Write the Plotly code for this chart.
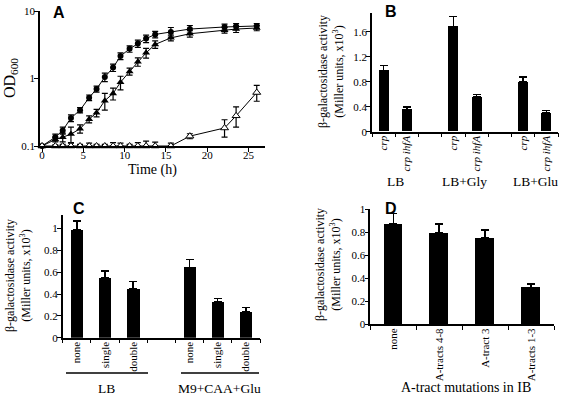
import plotly.graph_objects as go

# ---------------- data ----------------
# Panel A: growth curves
time_h = [0, 1.6, 2.5, 3.5, 4.6, 5.7, 6.6, 7.6, 8.6, 9.5, 10.6, 11.6, 12.6, 13.7, 15.6, 17.9, 22.1, 23.5, 26.0]
od_circle = [0.1, 0.135, 0.17, 0.26, 0.34, 0.52, 0.70, 1.05, 1.45, 2.15, 2.75, 3.3, 3.9, 4.5, 4.9, 5.4, 5.8, 5.9, 6.0]
od_circle_err = [0.005, 0.015, 0.02, 0.03, 0.03, 0.05, 0.07, 0.15, 0.18, 0.25, 0.3, 0.4, 0.5, 0.5, 0.8, 0.7, 0.6, 0.6, 0.5]
od_tri = [0.1, 0.125, 0.135, 0.15, 0.18, 0.25, 0.31, 0.47, 0.6, 0.88, 1.27, 1.77, 2.4, 3.2, 4.0, 4.6, 5.2, 5.4, 5.6]
od_tri_err = [0.005, 0.01, 0.02, 0.04, 0.025, 0.03, 0.04, 0.13, 0.12, 0.2, 0.15, 0.25, 0.4, 0.4, 0.4, 0.5, 0.5, 0.6, 0.5]
od_open = [0.1, 0.1, 0.1, 0.1, 0.1, 0.1, 0.1, 0.1, 0.1, 0.1, 0.1, 0.1, 0.1, 0.1, 0.1, 0.14, 0.185, 0.28, 0.62]
od_open_err_plus = [0, 0.004, 0.006, 0.012, 0.006, 0.01, 0.006, 0.006, 0.012, 0.01, 0.006, 0.012, 0.018, 0.014, 0.01, 0.012, 0.06, 0.1, 0.17]
od_open_err_minus = [0, 0, 0, 0, 0, 0, 0, 0, 0, 0, 0, 0, 0, 0, 0, 0.012, 0.05, 0.09, 0.16]

# Panel B
b_pos = [0, 1, 3, 4, 6, 7]
b_vals = [0.98, 0.36, 1.69, 0.56, 0.80, 0.30]
b_err = [0.08, 0.035, 0.16, 0.04, 0.08, 0.04]
b_ticktext = ["<i>crp</i>", "<i>crp ihfA</i>", "<i>crp</i>", "<i>crp ihfA</i>", "<i>crp</i>", "<i>crp ihfA</i>"]
b_groups = ["LB", "LB+Gly", "LB+Glu"]

# Panel C
c_pos = [0, 1, 2, 4, 5, 6]
c_vals = [0.99, 0.55, 0.45, 0.645, 0.33, 0.24]
c_err = [0.08, 0.06, 0.065, 0.07, 0.03, 0.035]
c_ticktext = ["none", "single", "double", "none", "single", "double"]
c_groups = ["LB", "M9+CAA+Glu"]

# Panel D
d_pos = [0, 1, 2, 3]
d_vals = [0.87, 0.79, 0.75, 0.32]
d_err = [0.09, 0.08, 0.07, 0.03]
d_ticktext = ["none", "A-tracts 4-8", "A-tract 3", "A-tracts 1-3"]

# ---------------- helpers ----------------
W, H = 562, 395
def px(x):
    return x / W
def py(y):
    return 1 - y / H

SERIF = "Liberation Serif"
SANS = "Liberation Sans"
BLACK = "black"

fig = go.Figure()

# Panel A traces
fig.add_trace(go.Scatter(
    x=time_h, y=od_circle, mode="lines+markers", xaxis="x", yaxis="y",
    line=dict(color=BLACK, width=1),
    marker=dict(symbol="circle", size=6, color=BLACK),
    error_y=dict(type="data", array=od_circle_err, color=BLACK, thickness=1.2, width=3),
    cliponaxis=False))
fig.add_trace(go.Scatter(
    x=time_h, y=od_tri, mode="lines+markers", xaxis="x", yaxis="y",
    line=dict(color=BLACK, width=1),
    marker=dict(symbol="triangle-up", size=7, color=BLACK),
    error_y=dict(type="data", array=od_tri_err, color=BLACK, thickness=1.2, width=3),
    cliponaxis=False))
fig.add_trace(go.Scatter(
    x=time_h, y=od_open, mode="lines+markers", xaxis="x", yaxis="y",
    line=dict(color=BLACK, width=1),
    marker=dict(symbol="triangle-up", size=7, color="white", line=dict(color=BLACK, width=1)),
    error_y=dict(type="data", symmetric=False, array=od_open_err_plus, arrayminus=od_open_err_minus,
                 color=BLACK, thickness=1.2, width=3),
    cliponaxis=False))

bar_err = lambda e: dict(type="data", symmetric=False, array=e, arrayminus=[0] * len(e),
                         color=BLACK, thickness=1.5, width=4)

fig.add_trace(go.Bar(x=b_pos, y=b_vals, width=0.43, xaxis="x2", yaxis="y2",
                     marker=dict(color=BLACK, line=dict(width=0)), error_y=bar_err(b_err)))
fig.add_trace(go.Bar(x=c_pos, y=c_vals, width=0.43, xaxis="x3", yaxis="y3",
                     marker=dict(color=BLACK, line=dict(width=0)), error_y=bar_err(c_err)))
fig.add_trace(go.Bar(x=d_pos, y=d_vals, width=0.41, xaxis="x4", yaxis="y4",
                     marker=dict(color=BLACK, line=dict(width=0)), error_y=bar_err(d_err)))

tickfont = dict(family=SERIF, size=11, color=BLACK)
rotfont = dict(family=SERIF, size=11, color=BLACK)
common_axis = dict(showline=True, linecolor=BLACK, linewidth=1.5, showgrid=False, zeroline=False,
                   automargin=False, mirror=False,
                   tickfont=tickfont, tickcolor=BLACK, ticklen=4, tickwidth=1.2, fixedrange=True)

def minor_bounds(n):
    return dict(tickmode="array", tickvals=[i - 0.5 for i in range(n + 1)],
                ticks="outside", ticklen=4, tickwidth=1.2, tickcolor=BLACK, showgrid=False)

fig.update_layout(
    template="none",
    width=W, height=H, margin=dict(l=0, r=0, t=0, b=0, autoexpand=False),
    paper_bgcolor="white", plot_bgcolor="white", showlegend=False, bargap=0,
    xaxis=dict(common_axis, domain=[px(40), px(265)], anchor="y", range=[-0.25, 27],
               tickmode="array", tickvals=[0, 5, 10, 15, 20, 25], ticks="outside",
               ticklabelstandoff=-6),
    yaxis=dict(common_axis, domain=[py(146), py(11)], anchor="x", type="log", range=[-1, 1],
               tickmode="array", tickvals=[0.1, 1, 10], ticktext=["0.1", "1", "10"], ticks="outside",
               ticklabelstandoff=-3),
    xaxis2=dict(common_axis, domain=[px(372), px(558)], anchor="y2", range=[-0.5, 7.5],
                tickmode="array", tickvals=b_pos, ticktext=b_ticktext, ticks="", tickangle=-90,
                tickfont=rotfont, minor=minor_bounds(8), ticklabelstandoff=-2),
    yaxis2=dict(common_axis, domain=[py(131.7), py(13.3)], anchor="x2", range=[0, 1.9],
                tickmode="array", tickvals=[0, 0.4, 0.8, 1.2, 1.6], ticktext=["0", "0.4", "0.8", "1.2", "1.6"],
                ticks="outside", ticklabelstandoff=-3),
    xaxis3=dict(common_axis, domain=[px(62.7), px(260)], anchor="y3", range=[-0.5, 6.5],
                tickmode="array", tickvals=c_pos, ticktext=c_ticktext, ticks="", tickangle=-90,
                tickfont=rotfont, minor=minor_bounds(7), ticklabelstandoff=-2),
    yaxis3=dict(common_axis, domain=[py(337.7), py(215)], anchor="x3", range=[0, 1.125],
                tickmode="array", tickvals=[0, 0.2, 0.4, 0.6, 0.8, 1], ticktext=["0", "0.2", "0.4", "0.6", "0.8", "1"],
                ticks="outside", ticklabelstandoff=-3),
    xaxis4=dict(common_axis, domain=[px(370.3), px(554)], anchor="y4", range=[-0.5, 3.5],
                tickmode="array", tickvals=d_pos, ticktext=d_ticktext, ticks="", tickangle=-90,
                tickfont=dict(family=SERIF, size=11, color=BLACK), minor=minor_bounds(4),
                ticklabelstandoff=-2),
    yaxis4=dict(common_axis, domain=[py(324.3), py(209)], anchor="x4", range=[0, 1],
                tickmode="array", tickvals=[0, 0.2, 0.4, 0.6, 0.8, 1], ticktext=["0", "0.2", "0.4", "0.6", "0.8", "1"],
                ticks="outside", ticklabelstandoff=-3),
)

ann = []
def add_text(text, x, y, size=13.5, family=SERIF, angle=0, bold=False):
    ann.append(dict(text=("<b>%s</b>" % text) if bold else text, x=px(x), y=py(y), xref="paper", yref="paper",
                    showarrow=False, xanchor="center", yanchor="middle", textangle=angle,
                    font=dict(family=family, size=size, color=BLACK)))

# panel letters
add_text("A", 59, 12, size=16, family=SANS, bold=True)
add_text("B", 391, 11, size=16, family=SANS, bold=True)
add_text("C", 79, 208, size=16, family=SANS, bold=True)
add_text("D", 391, 208, size=16, family=SANS, bold=True)

# Panel A labels
add_text("OD<sub>600</sub>", 11, 78, size=16, angle=-90)
add_text("Time (h)", 152, 170, size=14)

ylab = "β-galactosidase activity<br>(Miller units, x10<sup>3</sup>)"
add_text(ylab, 331, 72, size=12, angle=-90)
add_text(ylab, 18, 276, size=12, angle=-90)
add_text(ylab, 328, 265, size=12, angle=-90)

# Panel B group labels
for g, xc in zip(b_groups, [395, 465, 535]):
    add_text(g, xc, 181.5, size=13.5)

# Panel C group labels & underlines
for g, xc in zip(c_groups, [106, 219]):
    add_text(g, xc, 388.5, size=13.5)

add_text("A-tract mutations in IB", 466, 387.5, size=14)

fig.update_layout(annotations=ann, shapes=[
    dict(type="line", xref="paper", yref="paper", x0=px(66), x1=px(148), y0=py(373), y1=py(373),
         line=dict(color=BLACK, width=1.7)),
    dict(type="line", xref="paper", yref="paper", x0=px(181), x1=px(259), y0=py(373), y1=py(373),
         line=dict(color=BLACK, width=1.7)),
])

fig.write_html("out.html", config={"displayModeBar": False},
               post_script="document.body.style.margin='0';document.body.style.padding='0';"
                           "document.body.style.overflow='hidden';")
